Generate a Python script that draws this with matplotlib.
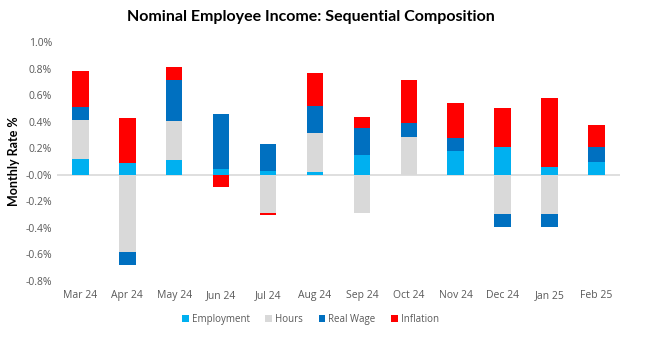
import matplotlib
matplotlib.use("Agg")
import matplotlib.pyplot as plt
import numpy as np
from matplotlib.ticker import FuncFormatter

months = ["Mar 24", "Apr 24", "May 24", "Jun 24", "Jul 24", "Aug 24",
          "Sep 24", "Oct 24", "Nov 24", "Dec 24", "Jan 25", "Feb 25"]
employment = [0.12, 0.09, 0.113, 0.045, 0.03, 0.023, 0.15, 0.0, 0.18, 0.211, 0.06, 0.098]
hours = [0.29, -0.587, 0.293, -0.005, -0.291, 0.293, -0.291, 0.286, 0.0, -0.293, -0.293, 0.0]
real_wage = [0.105, -0.098, 0.311, 0.414, 0.203, 0.203, 0.206, 0.105, 0.10, -0.105, -0.105, 0.108]
inflation = [0.27, 0.34, 0.095, -0.09, -0.01, 0.248, 0.08, 0.324, 0.261, 0.293, 0.519, 0.17]

series = [("Employment", employment, "#00B0F0"),
          ("Hours", hours, "#D9D9D9"),
          ("Real Wage", real_wage, "#0070C0"),
          ("Inflation", inflation, "#FF0000")]

fig = plt.figure(figsize=(6.47, 3.39), dpi=100)
ax = fig.add_axes([0.088, 0.172, 0.870, 0.703])

x = np.arange(len(months))
pos = np.zeros(len(months))
neg = np.zeros(len(months))
for name, vals, color in series:
    v = np.array(vals)
    bottoms = np.where(v >= 0, pos, neg)
    ax.bar(x, v, 0.35, bottom=bottoms, color=color, label=name, zorder=2, linewidth=0)
    pos = pos + np.where(v >= 0, v, 0)
    neg = neg + np.where(v < 0, v, 0)

ax.axhline(0, color="#D9D9D9", lw=1.2, zorder=1)
ax.set_xlim(-0.5, len(months) - 0.5)
ax.set_ylim(-0.8, 1.0)
ax.set_yticks(np.arange(-0.8, 1.01, 0.2))
ax.yaxis.set_major_formatter(FuncFormatter(lambda v, p: f"{v:.1f}%"))
ax.set_xticks(x)
ax.set_xticklabels(months)
for s in ax.spines.values():
    s.set_visible(False)
ax.tick_params(axis="both", length=0, labelsize=7.5, colors="#595959")
ax.tick_params(axis="x", pad=7)
for lbl in ax.get_xticklabels() + ax.get_yticklabels():
    lbl.set_fontfamily("Open Sans")
ax.set_ylabel("Monthly Rate %", fontsize=9, fontweight="bold", color="black",
              labelpad=4, family="Lato")

fig.suptitle("Nominal Employee Income: Sequential Composition", fontsize=11.5,
             fontweight="bold", x=0.48, y=0.97, family="Lato")
leg = fig.legend(loc="center", bbox_to_anchor=(0.48, 0.058), ncol=4, frameon=False,
                 prop={"family": "Open Sans", "size": 7},
                 handlelength=0.7, handleheight=0.7, columnspacing=1.6,
                 handletextpad=0.3)
for t in leg.get_texts():
    t.set_color("#595959")

fig.savefig("out.png", dpi=100)
